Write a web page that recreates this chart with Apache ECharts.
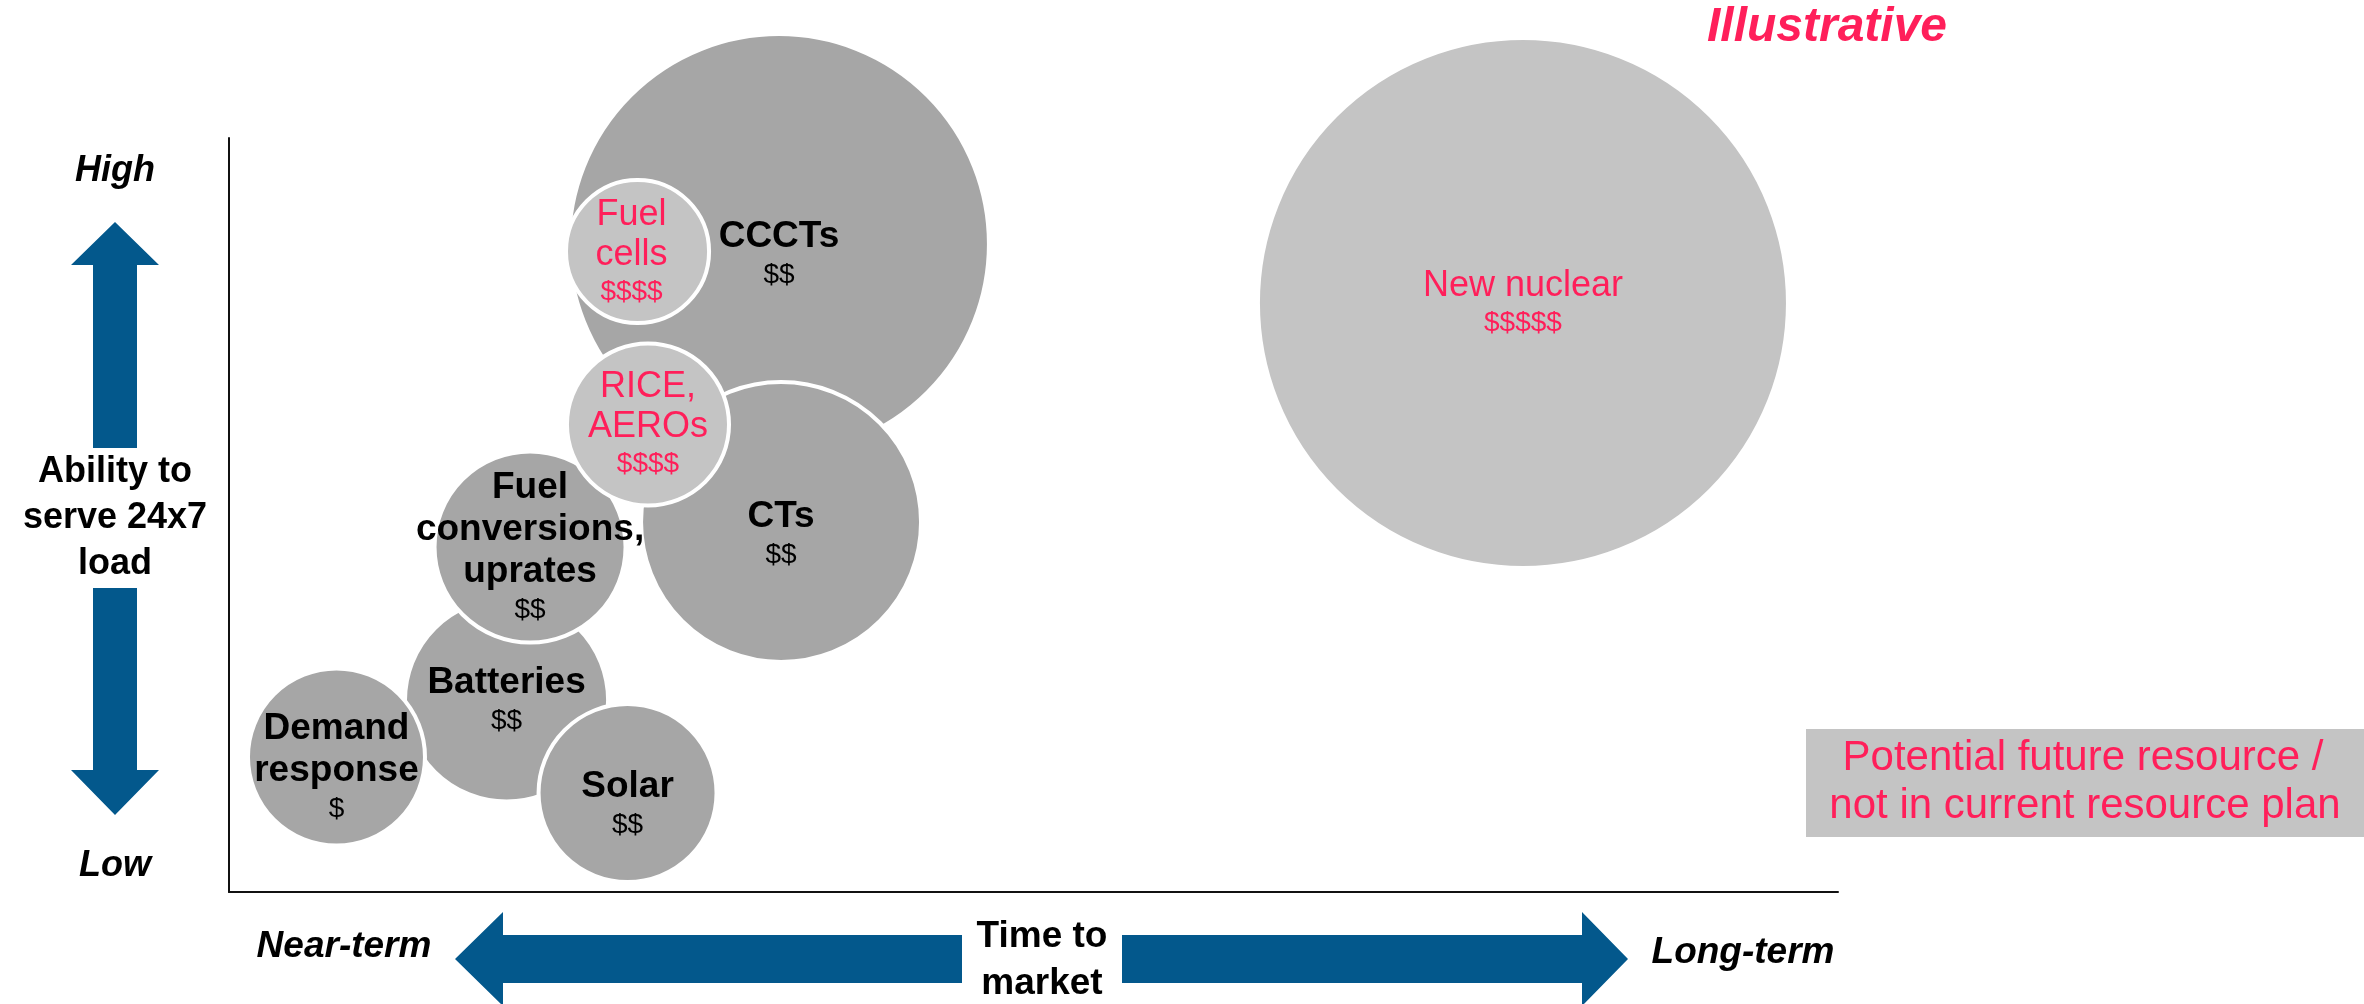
<!DOCTYPE html>
<html>
<head>
<meta charset="utf-8">
<script src="https://cdn.jsdelivr.net/npm/echarts@6/dist/echarts.min.js"></script>
<style>
html,body{margin:0;padding:0;background:#fff;}
#chart{width:2364px;height:1004px;}
</style>
</head>
<body>
<div id="chart"></div>
<script>
// ---- Data (illustrative positions) ----
const resources = ['CCCTs', 'Fuel cells', 'CTs', 'Batteries', 'Fuel conversions, uprates', 'RICE, AEROs', 'Demand response', 'Solar', 'New nuclear'];
const labelText = ['CCCTs', 'Fuel\ncells', 'CTs', 'Batteries', 'Fuel\nconversions,\nuprates', 'RICE,\nAEROs', 'Demand\nresponse', 'Solar', 'New nuclear'];
const timeToMarket = [34.18, 25.39, 34.31, 17.25, 18.71, 26.04, 6.68, 24.77, 80.42];   // x: 0 = near-term, 100 = long-term
const abilityToServe = [85.94, 84.95, 49.07, 25.46, 45.76, 62.0, 17.90, 13.13, 78.12]; // y: 0 = low, 100 = high
const bubbleSize = [26.35, 9.14, 17.65, 12.87, 12.12, 10.32, 11.25, 11.31, 33.19];    // diameter, in x-axis units
const costLevel = ['$$', '$$$$', '$$', '$$', '$$', '$$$$', '$', '$$', '$$$$$'];
const inCurrentPlan = [true, false, true, true, true, false, true, true, false];

// ---- Styling ----
const FONT = '"Liberation Sans", Arial, sans-serif';
const PINK = '#FF1F5A';
const DARK = '#A6A6A6';
const LIGHT = '#C4C4C4';
const BLUE = '#03588C';
const GRID = {left: 229, top: 138, width: 1609, height: 754};
const BORDER_W = 4;
const pxPerX = GRID.width / 100;
const labelShift = {'CCCTs': [0, 10], 'CTs': [0, 12], 'Solar': [0, 11], 'Demand response': [0, 10], 'Fuel cells': [-6, 1]};

const seriesData = resources.map((name, i) => {
  const cur = inCurrentPlan[i];
  return {
    name: name,
    value: [timeToMarket[i], abilityToServe[i], bubbleSize[i]],
    itemStyle: {color: cur ? DARK : LIGHT, borderColor: '#fff', borderWidth: BORDER_W, opacity: 1},
    label: {
      show: true,
      position: 'inside',
      offset: labelShift[name] || [0, 0],
      formatter: () => cur
        ? '{nm|' + labelText[i] + '}\n{cost|' + costLevel[i] + '}'
        : '{pnm|' + labelText[i] + '}\n{pcost|' + costLevel[i] + '}',
      rich: {
        nm: {fontFamily: FONT, fontWeight: 'bold', fontSize: 37, lineHeight: 42, color: '#000', align: 'center'},
        cost: {fontFamily: FONT, fontSize: 28, lineHeight: 34, color: '#000', align: 'center'},
        pnm: {fontFamily: FONT, fontSize: 36, lineHeight: 40, color: PINK, align: 'center'},
        pcost: {fontFamily: FONT, fontSize: 28, lineHeight: 34, color: PINK, align: 'center'}
      }
    }
  };
});

function txt(text, x, y, size, opts) {
  opts = opts || {};
  return {
    type: 'text', z: 10, silent: true,
    style: {
      text: text, x: x, y: y,
      font: (opts.italic ? 'italic ' : '') + (opts.bold ? 'bold ' : '') + size + 'px ' + FONT,
      fill: opts.color || '#000',
      textAlign: 'center', align: 'center',
      textVerticalAlign: 'middle', verticalAlign: 'middle'
    }
  };
}
function poly(points) {
  return {type: 'polygon', z: 5, silent: true, shape: {points: points}, style: {fill: BLUE}};
}

const option = {
  animation: false,
  grid: GRID,
  xAxis: {
    type: 'value', min: 0, max: 100,
    axisLine: {show: true, onZero: false, lineStyle: {color: '#111', width: 2}},
    axisTick: {show: false}, axisLabel: {show: false}, splitLine: {show: false}
  },
  yAxis: {
    type: 'value', min: 0, max: 100,
    axisLine: {show: true, onZero: false, lineStyle: {color: '#111', width: 2}},
    axisTick: {show: false}, axisLabel: {show: false}, splitLine: {show: false}
  },
  series: [{
    type: 'scatter',
    clip: false,
    silent: true,
    symbol: 'circle',
    symbolSize: (val) => val[2] * pxPerX - BORDER_W,
    itemStyle: {opacity: 1},
    data: seriesData
  }],
  graphic: [
    // vertical axis arrows
    poly([[93, 448], [93, 265], [71, 265], [115, 222], [159, 265], [137, 265], [137, 448]]),
    poly([[93, 588], [93, 770], [71, 770], [115, 815], [159, 770], [137, 770], [137, 588]]),
    // horizontal axis arrows
    poly([[962, 935], [503, 935], [503, 912], [455, 959], [503, 1006], [503, 983], [962, 983]]),
    poly([[1122, 935], [1582, 935], [1582, 912], [1628, 959], [1582, 1006], [1582, 983], [1122, 983]]),
    // axis texts
    txt('High', 115, 171, 36, {bold: true, italic: true}),
    txt('Low', 115, 866, 36, {bold: true, italic: true}),
    txt('Ability to', 115, 472, 36, {bold: true}),
    txt('serve 24x7', 115, 518, 36, {bold: true}),
    txt('load', 115, 564, 36, {bold: true}),
    txt('Near-term', 344, 947, 37, {bold: true, italic: true}),
    txt('Long-term', 1743, 953, 37, {bold: true, italic: true}),
    txt('Time to', 1042, 937, 37, {bold: true}),
    txt('market', 1042, 984, 37, {bold: true}),
    txt('Illustrative', 1827, 28, 48, {bold: true, italic: true, color: PINK}),
    // legend box
    {type: 'rect', z: 4, silent: true, shape: {x: 1806, y: 729, width: 558, height: 108}, style: {fill: LIGHT}},
    txt('Potential future resource /', 2083, 758, 42, {color: PINK}),
    txt('not in current resource plan', 2085, 806, 42, {color: PINK})
  ]
};

const chart = echarts.init(document.getElementById('chart'), null, {renderer: 'canvas'});
chart.setOption(option);
</script>
</body>
</html>
